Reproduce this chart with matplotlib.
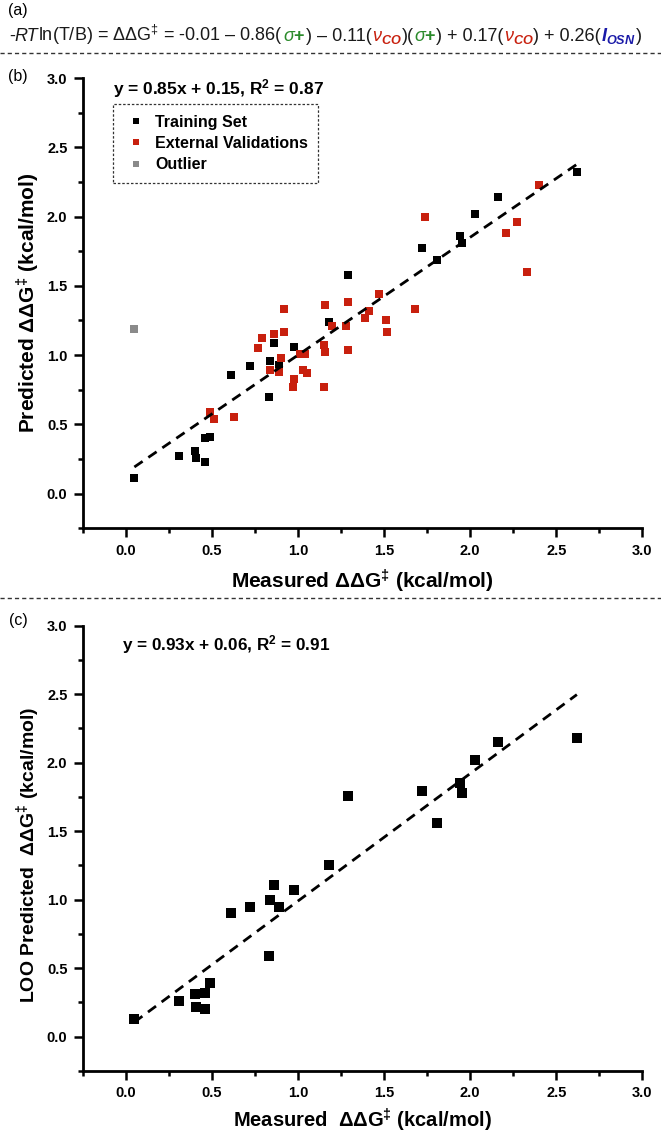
import matplotlib
matplotlib.use("Agg")
import matplotlib.pyplot as plt
from matplotlib.ticker import MultipleLocator
from matplotlib.lines import Line2D
from matplotlib.offsetbox import TextArea, HPacker, AnchoredOffsetbox

plt.rcParams.update({
    "font.family": ["Liberation Sans", "DejaVu Sans"],
    "mathtext.fontset": "custom",
    "mathtext.rm": "Liberation Sans",
    "mathtext.it": "Liberation Sans:italic",
    "mathtext.bf": "Liberation Sans:bold",
    "mathtext.bfit": "Liberation Sans:italic:bold",
    "mathtext.default": "regular",
})

# ---- data (kcal/mol) ----
train_meas = [0.05, 0.31, 0.40, 0.41, 0.46, 0.46, 0.49, 0.61, 0.72, 0.83, 0.84, 0.86,
              0.89, 0.98, 1.18, 1.29, 1.72, 1.81, 1.94, 1.95, 2.03, 2.16, 2.62]
train_pred = [0.11, 0.27, 0.31, 0.26, 0.23, 0.40, 0.41, 0.86, 0.92, 0.70, 0.96, 1.09,
              0.93, 1.06, 1.24, 1.58, 1.77, 1.69, 1.86, 1.81, 2.02, 2.14, 2.32]
train_loo = [0.13, 0.26, 0.31, 0.22, 0.20, 0.32, 0.39, 0.90, 0.95, 0.59, 1.00, 1.11,
             0.95, 1.07, 1.25, 1.76, 1.79, 1.56, 1.85, 1.78, 2.02, 2.15, 2.18]

ext_meas = [0.49, 0.51, 0.63, 0.77, 0.79, 0.84, 0.86, 0.90, 0.89, 0.92, 0.92, 0.97,
            0.98, 1.01, 1.03, 1.05, 1.04, 1.15, 1.16, 1.15, 1.16, 1.20, 1.28, 1.29,
            1.29, 1.39, 1.41, 1.47, 1.51, 1.52, 1.68, 1.74, 2.21, 2.27, 2.33, 2.40]
ext_pred = [0.59, 0.54, 0.55, 1.05, 1.12, 0.89, 1.15, 0.98, 0.88, 1.33, 1.17, 0.77,
            0.83, 1.01, 0.89, 0.87, 1.01, 1.07, 1.02, 0.77, 1.36, 1.21, 1.21, 1.38,
            1.04, 1.27, 1.32, 1.44, 1.25, 1.17, 1.33, 2.00, 1.88, 1.96, 1.60, 2.23]

outlier_meas = [0.05]
outlier_pred = [1.19]

fit_b = (0.85, 0.15)
fit_c = (0.93, 0.06)
fit_x = [0.05, 2.62]

RED = "#c8200e"
GRAY = "#8a8a8a"

W, H = 661, 1140
fig = plt.figure(figsize=(W / 100, H / 100), dpi=100)


def fx(px):
    return px / W


def fy(py):
    return 1 - py / H


def style_axes(ax):
    for s in ("top", "right"):
        ax.spines[s].set_visible(False)
    for s in ("left", "bottom"):
        ax.spines[s].set_linewidth(2.0)
    ax.set_xlim(-0.25, 3.0)
    ax.set_ylim(-0.25, 3.0)
    ax.xaxis.set_major_locator(MultipleLocator(0.5))
    ax.yaxis.set_major_locator(MultipleLocator(0.5))
    ax.xaxis.set_minor_locator(MultipleLocator(0.25))
    ax.yaxis.set_minor_locator(MultipleLocator(0.25))
    ax.tick_params(which="major", direction="out", length=6.5, width=1.8,
                   labelsize=10.5, pad=4.5)
    ax.tick_params(which="minor", direction="out", length=3.6, width=1.8)
    for lab in ax.get_xticklabels() + ax.get_yticklabels():
        lab.set_fontweight("bold")


def fit_line(ax, fit):
    m, b = fit
    ys = [m * x + b for x in fit_x]
    ax.plot(fit_x, ys, color="black", lw=2.0, ls=(0, (3.6, 2.5)), zorder=4)


# ---- panel (a): equation ----
fig.text(fx(8), fy(10), "(a)", fontsize=11.5, va="center", ha="left")

GREEN = "#2a8a2a"
BLUE = "#1a1aa8"
fs = 13
parts = [
    ("-", {}),
    ("RT", {"style": "italic"}),
    ("ln(T/B) = \u0394\u0394G$^{\\ddagger}$ = -0.01 \u2013 0.86(", {}),
    ("$\\mathit{\\sigma}\\mathbf{+}$", {"color": GREEN}),
    (") \u2013 0.11(", {}),
    ("$\\mathit{\\nu}_{\\mathbfit{CO}}$", {"color": RED}),
    (")(", {}),
    ("$\\mathit{\\sigma}\\mathbf{+}$", {"color": GREEN}),
    (") + 0.17(", {}),
    ("$\\mathit{\\nu}_{\\mathbfit{CO}}$", {"color": RED}),
    (") + 0.26(", {}),
    ("$\\mathbfit{I}_{\\mathbfit{OSN}}$", {"color": BLUE}),
    (")", {}),
]
areas = []
for txt, props in parts:
    p = {"fontsize": fs, "color": "#1a1a1a"}
    p.update(props)
    areas.append(TextArea(txt, textprops=p))
pack = HPacker(children=areas, align="baseline", pad=0, sep=0)
box = AnchoredOffsetbox(loc="center left", child=pack, pad=0, borderpad=0,
                        frameon=False, bbox_to_anchor=(fx(9), fy(35)),
                        bbox_transform=fig.transFigure)
fig.add_artist(box)

# separators
for ysep in (53, 598):
    fig.add_artist(Line2D([0, 1], [fy(ysep), fy(ysep)], transform=fig.transFigure,
                          color="#333333", lw=1.0, ls=(0, (3, 2.2))))

# ---- panel (b) ----
axb = fig.add_axes([fx(82.7), fy(528.3), fx(559.6), 450.3 / H])
style_axes(axb)
axb.scatter(train_meas, train_pred, marker="s", s=38, color="black", lw=0, zorder=3)
axb.scatter(ext_meas, ext_pred, marker="s", s=38, color=RED, lw=0, zorder=3)
axb.scatter(outlier_meas, outlier_pred, marker="s", s=38, color=GRAY, lw=0, zorder=3)
fit_line(axb, fit_b)

fig.text(fx(18), fy(77), "(b)", fontsize=11.5, va="center", ha="center")
fig.text(fx(113), fy(89), "y = 0.85x + 0.15, R$^{2}$ = 0.87", fontsize=12.5,
         fontweight="bold", va="center", ha="left")
fig.text(fx(362.5), fy(581), "Measured \u0394\u0394G$^{\\ddagger}$ (kcal/mol)",
         fontsize=15, fontweight="bold", va="center", ha="center")
fig.text(fx(28), fy(303), "Predicted \u0394\u0394G$^{\\ddagger}$ (kcal/mol)",
         fontsize=15, fontweight="bold", va="center", ha="center", rotation=90)

handles = [
    Line2D([], [], ls="none", marker="s", ms=4.2, color="black", mew=0),
    Line2D([], [], ls="none", marker="s", ms=4.2, color=RED, mew=0),
    Line2D([], [], ls="none", marker="s", ms=4.2, color=GRAY, mew=0),
]
leg = axb.legend(handles, ["Training Set", "External Validations", "Outlier"],
                 loc="upper left", bbox_to_anchor=((113.3 - 82.7) / 559.6, (528.3 - 104.3) / 450.3),
                 prop={"weight": "bold", "size": 11.5}, frameon=True, fancybox=False,
                 handlelength=1.54, handletextpad=0.42, labelspacing=0.4,
                 borderpad=0.65, borderaxespad=0, framealpha=1)
fr = leg.get_frame()
fr.set_edgecolor("#333333")
fr.set_linewidth(0.9)
fr.set_linestyle((0, (2, 1.5)))

# ---- panel (c) ----
axc = fig.add_axes([fx(82.7), fy(1071), fx(559.6), 445.4 / H])
style_axes(axc)
axc.scatter(train_meas, train_loo, marker="s", s=42, color="black", lw=0, zorder=3)
fit_line(axc, fit_c)

fig.text(fx(18), fy(621), "(c)", fontsize=11.5, va="center", ha="center")
fig.text(fx(122), fy(645), "y = 0.93x + 0.06, R$^{2}$ = 0.91", fontsize=12.3,
         fontweight="bold", va="center", ha="left")
fig.text(fx(362.5), fy(1120), "Measured  \u0394\u0394G$^{\\ddagger}$ (kcal/mol)",
         fontsize=14.5, fontweight="bold", va="center", ha="center")
fig.text(fx(28), fy(855), "LOO Predicted  \u0394\u0394G$^{\\ddagger}$ (kcal/mol)",
         fontsize=14, fontweight="bold", va="center", ha="center", rotation=90)

fig.savefig("out.png", dpi=100)
